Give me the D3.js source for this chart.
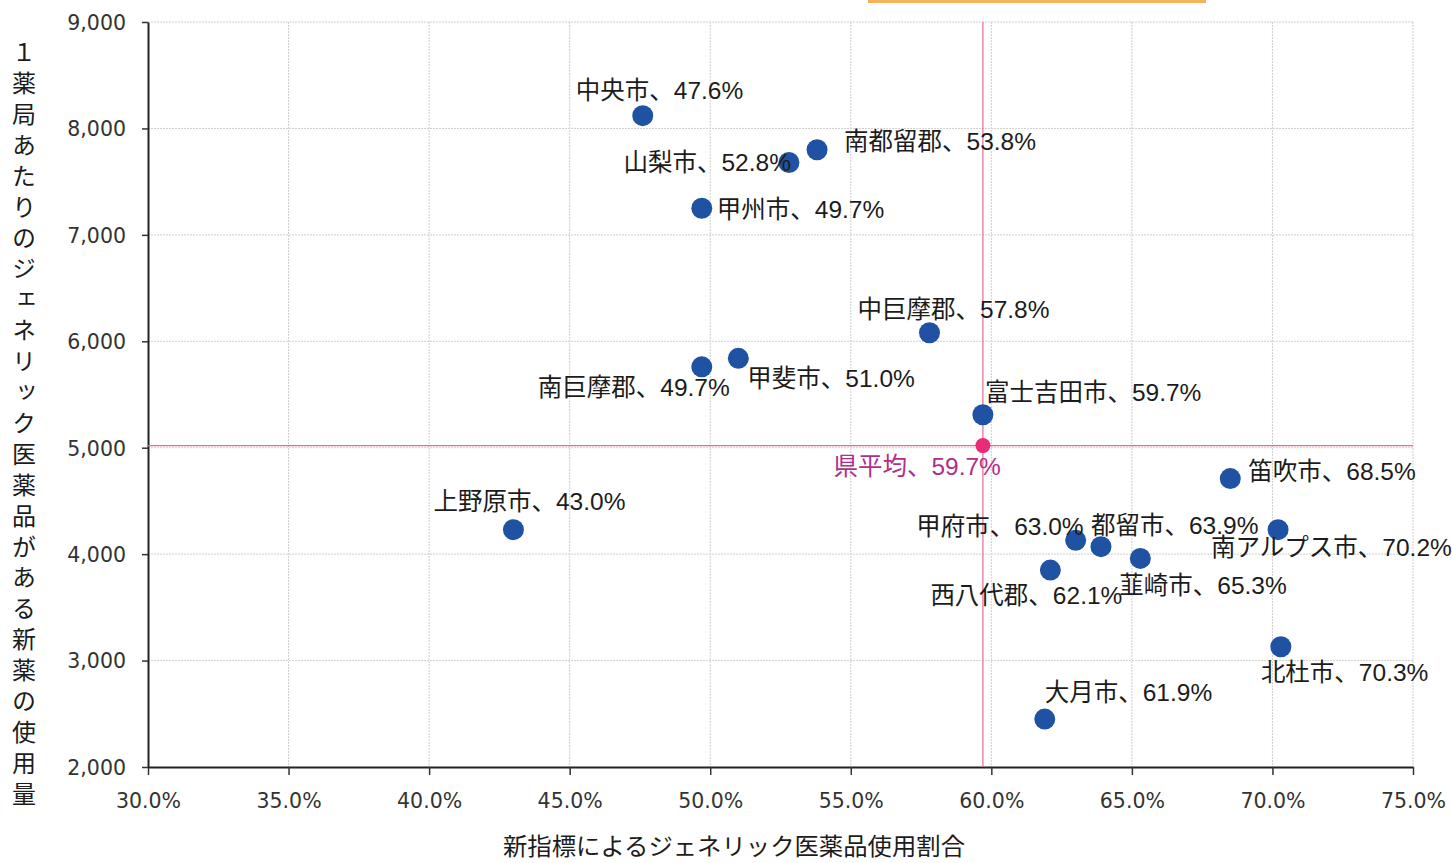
<!DOCTYPE html>
<html>
<head>
<meta charset="utf-8">
<script src="https://cdn.jsdelivr.net/npm/d3@7"></script>
<style>
  html, body { margin: 0; padding: 0; background: #ffffff; }
  svg { display: block; }
</style>
</head>
<body>
<svg id="chart" width="1452" height="863"></svg>
<script>
// Municipalities: generic-drug usage ratio (%) vs. new-drug usage per pharmacy
const names = ["中央市", "南都留郡", "山梨市", "甲州市", "中巨摩郡", "南巨摩郡", "甲斐市",
  "富士吉田市", "笛吹市", "上野原市", "甲府市", "都留市", "南アルプス市", "西八代郡",
  "韮崎市", "北杜市", "大月市"];
const ratios = [47.6, 53.8, 52.8, 49.7, 57.8, 49.7, 51.0, 59.7, 68.5, 43.0, 63.0, 63.9, 70.2, 62.1, 65.3, 70.3, 61.9];
const usage = [8120, 7800, 7680, 7250, 6080, 5760, 5840, 5310, 4710, 4230, 4130, 4070, 4230, 3850, 3960, 3130, 2450];

// Prefecture average
const avgName = "県平均";
const avgRatio = 59.7;
const avgUsage = 5020;

// Axis ticks
const xTicks = [30, 35, 40, 45, 50, 55, 60, 65, 70, 75];
const yTicks = [2000, 3000, 4000, 5000, 6000, 7000, 8000, 9000];
const xTitle = "新指標によるジェネリック医薬品使用割合";
const yTitle = "１薬局あたりのジェネリック医薬品がある新薬の使用量";

// Label placement per point: [anchor, dx, dy]
const labelPlace = [
  ["start", -67, -25], ["start", 27, -8], ["end", 2, 0], ["start", 15, 1],
  ["middle", 24, -23], ["end", 28, 21], ["start", 9, 20], ["start", 2, -22],
  ["start", 18, -7], ["middle", 16, -28], ["end", 8, -14], ["start", -10, -21],
  ["start", -67, 18], ["middle", -24, 25], ["start", -21, 27], ["start", -20, 26],
  ["start", 0, -27]
];
const avgPlace = ["end", 18, 21];

const svg = d3.select("#chart");
const L = 148, R = 1413, T = 22, B = 767;

const x = d3.scaleLinear().domain([30, 75]).range([L, R]);
const y = d3.scaleLinear().domain([2000, 9000]).range([B, T]);

// stray orange strip along the top edge
svg.append("rect").attr("x", 868).attr("y", 0).attr("width", 338).attr("height", 3)
  .attr("fill", "#f0a030").attr("opacity", 0.8);

// gridlines
const grid = svg.append("g");
grid.selectAll("line.gx").data(xTicks.slice(1)).join("line")
  .attr("x1", d => x(d)).attr("x2", d => x(d)).attr("y1", T).attr("y2", B)
  .attr("stroke", "#cfcfcf").attr("stroke-width", 1).attr("stroke-dasharray", "2,1");
grid.selectAll("line.gy").data(yTicks.slice(1)).join("line")
  .attr("x1", L).attr("x2", R).attr("y1", d => y(d)).attr("y2", d => y(d))
  .attr("stroke", "#cfcfcf").attr("stroke-width", 1).attr("stroke-dasharray", "2,1");

// axes
const tickFont = "'DejaVu Sans', Verdana, sans-serif";
const xAxis = svg.append("g").attr("transform", `translate(0,${B})`)
  .call(d3.axisBottom(x).tickValues(xTicks).tickFormat(d => d.toFixed(1) + "%").tickSize(8).tickSizeOuter(0));
const yAxis = svg.append("g").attr("transform", `translate(${L},0)`)
  .call(d3.axisLeft(y).tickValues(yTicks).tickFormat(d3.format(",")).tickSize(6).tickSizeOuter(0));
[xAxis, yAxis].forEach(a => {
  a.select(".domain").attr("stroke", "#222").attr("stroke-width", 2);
  a.selectAll(".tick line").attr("stroke", "#333").attr("stroke-width", 1.5);
  a.selectAll(".tick text").attr("font-family", tickFont).attr("font-size", 20.5).attr("fill", "#333");
});
xAxis.selectAll(".tick text").attr("dy", 0).attr("y", 41);
yAxis.selectAll(".tick text").attr("x", -22).attr("dy", "0.36em");

// average reference lines
svg.append("line").attr("x1", L).attr("x2", R).attr("y1", y(avgUsage)).attr("y2", y(avgUsage))
  .attr("stroke", "#e46a96").attr("stroke-width", 1.2);
svg.append("line").attr("x1", x(avgRatio)).attr("x2", x(avgRatio)).attr("y1", T).attr("y2", B)
  .attr("stroke", "#e46a96").attr("stroke-width", 1.2);

// points
const pts = names.map((n, i) => ({ name: n, r: ratios[i], v: usage[i], place: labelPlace[i] }));
svg.append("g").selectAll("circle").data(pts).join("circle")
  .attr("cx", d => x(d.r)).attr("cy", d => y(d.v)).attr("r", 10.5)
  .attr("fill", "#1f52a3");
svg.append("circle").attr("cx", x(avgRatio)).attr("cy", y(avgUsage)).attr("r", 7.5)
  .attr("fill", "#ea2c78");

// point labels
const labelFont = "'Liberation Sans', Arial, 'Noto Sans CJK JP', sans-serif";
svg.append("g").selectAll("text").data(pts).join("text")
  .attr("x", d => x(d.r) + d.place[1]).attr("y", d => y(d.v) + d.place[2])
  .attr("text-anchor", d => d.place[0]).attr("dominant-baseline", "central")
  .attr("font-family", labelFont).attr("font-size", 24.5).attr("fill", "#1c1c1c")
  .text(d => `${d.name}、${d.r.toFixed(1)}%`);
svg.append("text")
  .attr("x", x(avgRatio) + avgPlace[1]).attr("y", y(avgUsage) + avgPlace[2])
  .attr("text-anchor", avgPlace[0]).attr("dominant-baseline", "central")
  .attr("font-family", labelFont).attr("font-size", 24.5).attr("fill", "#b02f8c")
  .text(`${avgName}、${avgRatio.toFixed(1)}%`);

// axis titles
svg.append("text").attr("x", 503).attr("y", 845)
  .attr("dominant-baseline", "central")
  .attr("textLength", 462).attr("lengthAdjust", "spacingAndGlyphs")
  .attr("font-family", "'Noto Sans CJK JP', sans-serif").attr("font-size", 23.5).attr("fill", "#1c1c1c")
  .text(xTitle);
svg.append("text").attr("x", 24).attr("y", 40)
  .style("writing-mode", "vertical-rl")
  .attr("letter-spacing", 6.9)
  .attr("font-family", "'Noto Sans CJK JP', sans-serif").attr("font-size", 24).attr("fill", "#1c1c1c")
  .text(yTitle);
</script>
</body>
</html>
